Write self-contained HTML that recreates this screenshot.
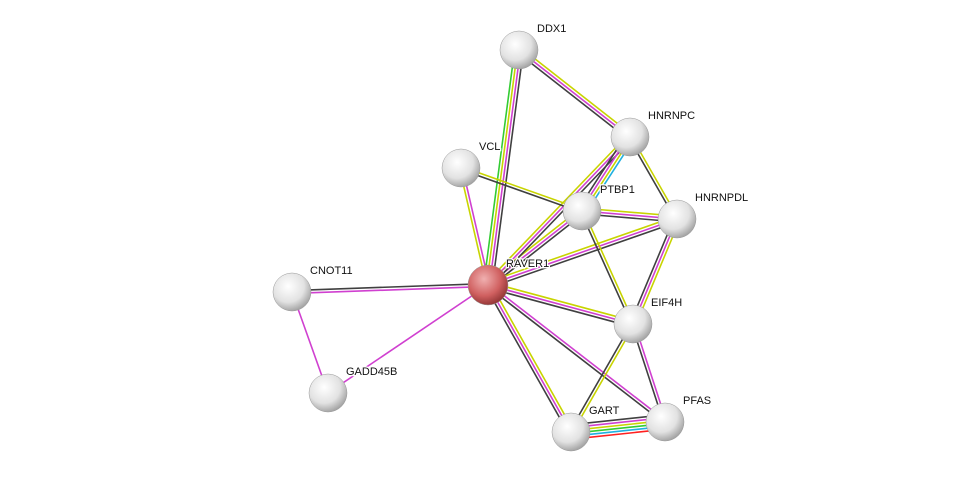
<!DOCTYPE html>
<html><head><meta charset="utf-8"><style>
html,body{margin:0;padding:0;background:#fff;}
svg{display:block;}
text{font-family:"Liberation Sans",sans-serif;font-size:11px;fill:#111;paint-order:stroke;stroke:#fff;stroke-width:2.5px;}
</style></head><body>
<svg id="s" width="976" height="478" xmlns="http://www.w3.org/2000/svg">
<defs>
<radialGradient id="gw" cx="0.4" cy="0.35" r="0.7">
<stop offset="0" stop-color="#ffffff"/><stop offset="0.6" stop-color="#e2e2e2"/><stop offset="1" stop-color="#9a9a9a"/></radialGradient>
<radialGradient id="gr" cx="0.4" cy="0.35" r="0.7">
<stop offset="0" stop-color="#f0b0b0"/><stop offset="0.6" stop-color="#d06060"/><stop offset="1" stop-color="#8a3030"/></radialGradient>
</defs>
<g id="edges"></g><g id="nodes"></g>
</svg>
<script>
var N={DDX1:[519,50],HNRNPC:[630,137],VCL:[461,168],PTBP1:[582,211],HNRNPDL:[677,219],RAVER1:[488,285],CNOT11:[292,292],EIF4H:[633,324],GADD45B:[328,393],GART:[571,432],PFAS:[665,422]};
var C={g:"#33cc33",y:"#c8d400",m:"#d040d0",k:"#404040",b:"#20b0e0",r:"#ff2020"};
var E=[["RAVER1","DDX1","gymk"],["RAVER1","VCL","ym"],["RAVER1","CNOT11","mk"],["RAVER1","GADD45B","m"],["RAVER1","PTBP1","ymk"],["RAVER1","HNRNPC","ymk"],["RAVER1","HNRNPDL","ymk"],["RAVER1","EIF4H","ymk"],["RAVER1","GART","ymk"],["RAVER1","PFAS","mk"],["CNOT11","GADD45B","m"],["DDX1","HNRNPC","ymk"],["VCL","PTBP1","yk"],["HNRNPC","PTBP1","bymk"],["HNRNPC","HNRNPDL","yk"],["PTBP1","HNRNPDL","ymk"],["PTBP1","EIF4H","yk"],["HNRNPDL","EIF4H","ymk"],["EIF4H","GART","yk"],["EIF4H","PFAS","mk"],["GART","PFAS","kmygbr"]];
var s="";
E.forEach(function(e){var a=N[e[0]],b=N[e[1]],dx=b[0]-a[0],dy=b[1]-a[1],L=Math.hypot(dx,dy),px=-dy/L,py=dx/L,n=e[2].length;
for(var i=0;i<n;i++){var o=(i-(n-1)/2)*2.9;s+='<line x1="'+(a[0]+px*o)+'" y1="'+(a[1]+py*o)+'" x2="'+(b[0]+px*o)+'" y2="'+(b[1]+py*o)+'" stroke="'+C[e[2][i]]+'" stroke-width="1.6"/>';}});
document.getElementById("edges").innerHTML=s;
var t="";
for(var k in N){var p=N[k];t+='<circle cx="'+p[0]+'" cy="'+p[1]+'" r="'+(k=="RAVER1"?20:19)+'" fill="url(#'+(k=="RAVER1"?"gr":"gw")+')" stroke="#999" stroke-width="0.5"/>';}
for(var k in N){var p=N[k];t+='<text x="'+(p[0]+18)+'" y="'+(p[1]-18)+'">'+k+'</text>';}
document.getElementById("nodes").innerHTML=t;
</script>
</body></html>
